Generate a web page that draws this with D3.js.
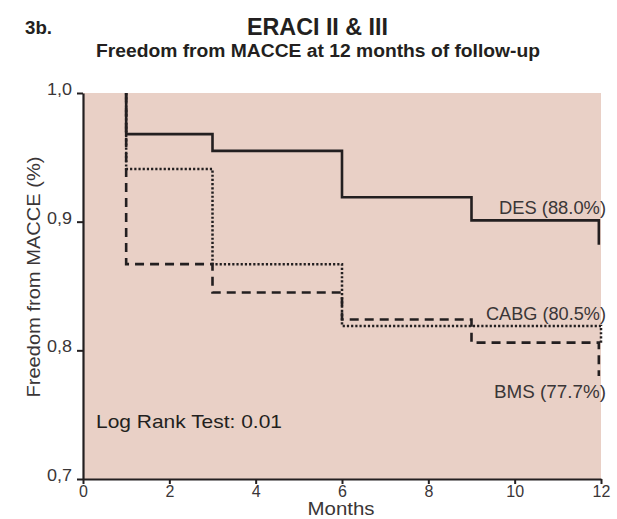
<!DOCTYPE html>
<html>
<head>
<meta charset="utf-8">
<script src="https://cdn.jsdelivr.net/npm/d3@7"></script>
<style>
  body { margin: 0; background: #fff; }
  svg { display: block; }
  .axis path, .axis line { stroke: #231f20; }
  .axis text { fill: #3a3637; font-family: "Liberation Sans", Arial, sans-serif; }
</style>
</head>
<body>
<div id="graphWrapper"></div>
<script>
// month at each step, survival value at each step
var desMonths  = [1, 1, 3, 6, 9, 11.95];
var desValues  = [1.0, 0.968, 0.955, 0.919, 0.901, 0.882];
var cabgMonths = [1, 1, 3, 6, 12];
var cabgValues = [1.0, 0.941, 0.867, 0.819, 0.805];
var bmsMonths  = [1, 1, 3, 6, 9, 11.95];
var bmsValues  = [1.0, 0.867, 0.845, 0.824, 0.806, 0.780];

var seriesNames  = ["DES (88.0%)", "CABG (80.5%)", "BMS (77.7%)"];
var xTicks = [0, 2, 4, 6, 8, 10, 12];
var yTicks = [0.7, 0.8, 0.9, 1.0];

var w = 617, h = 519;
var margin = { top: 93, bottom: 40, left: 83, right: 16 };
var width = w - margin.left - margin.right;
var height = h - margin.top - margin.bottom;
var ink = "#231f20";
var bodyFont = "'Liberation Sans', Arial, sans-serif";

var svg = d3.select("#graphWrapper").append("svg")
    .attr("width", w)
    .attr("height", h);

var chart = svg.append("g")
    .attr("transform", "translate(" + margin.left + "," + margin.top + ")");

var x = d3.scaleLinear().domain([0, 12]).range([0, width]);
var y = d3.scaleLinear().domain([0.7, 1.0]).range([height, 0]);

// background panel
chart.append("rect")
    .attr("x", 0).attr("y", 0)
    .attr("width", width).attr("height", height)
    .attr("fill", "#e9d0c6");

var line = d3.line()
    .x(function(d){ return x(d[0]); })
    .y(function(d){ return y(d[1]); })
    .curve(d3.curveStepAfter);

function pairs(months, values){
    return months.map(function(m, i){ return [m, values[i]]; });
}

var curves = [
    { data: pairs(bmsMonths, bmsValues), dash: "9,6", width: 2.6 },
    { data: pairs(cabgMonths, cabgValues), dash: "2.2,2", width: 2.5 },
    { data: pairs(desMonths, desValues), dash: null, width: 2.6 }
];

chart.selectAll(".km")
    .data(curves)
    .enter()
    .append("path")
    .classed("km", true)
    .attr("d", function(d){ return line(d.data); })
    .attr("fill", "none")
    .attr("stroke", ink)
    .attr("stroke-width", function(d){ return d.width; })
    .attr("stroke-dasharray", function(d){ return d.dash; });

// axes
var yAxis = d3.axisLeft(y)
    .tickValues(yTicks)
    .tickSize(6)
    .tickSizeOuter(0)
    .tickFormat(function(d){ return d3.format(".1f")(d).replace(".", ","); });
var xAxis = d3.axisBottom(x)
    .tickValues(xTicks)
    .tickSize(5)
    .tickSizeOuter(0)
    .tickFormat(d3.format("d"));

var gy = chart.append("g").classed("y axis", true).call(yAxis);
gy.select(".domain").attr("stroke-width", 2.2);
gy.selectAll(".tick line").attr("stroke-width", 2);
gy.selectAll(".tick text")
    .style("font-size", "16px")
    .attr("x", -11)
    .attr("dy", "0.1em")
    .attr("textLength", 25)
    .attr("lengthAdjust", "spacingAndGlyphs");

var gx = chart.append("g").classed("x axis", true)
    .attr("transform", "translate(0," + height + ")")
    .call(xAxis);
gx.select(".domain").attr("stroke-width", 2.2);
gx.selectAll(".tick line").attr("stroke-width", 2);
gx.selectAll(".tick text").style("font-size", "16px").attr("y", 4).attr("dy", "0.85em");

// axis labels
svg.append("text")
    .attr("transform", "translate(40," + 277 + ") rotate(-90)")
    .attr("text-anchor", "middle")
    .attr("textLength", 241)
    .attr("lengthAdjust", "spacingAndGlyphs")
    .style("font-family", bodyFont)
    .style("font-size", "19px")
    .style("fill", "#3a3637")
    .text("Freedom from MACCE (%)");

svg.append("text")
    .attr("x", margin.left + x(6) - 1)
    .attr("y", 515)
    .attr("text-anchor", "middle")
    .attr("textLength", 67)
    .attr("lengthAdjust", "spacingAndGlyphs")
    .style("font-family", bodyFont)
    .style("font-size", "18px")
    .style("fill", "#3a3637")
    .text("Months");

// curve labels
var labelY = [desValues[4], cabgValues[3], bmsValues[5]];
var labelOffset = [-6, -6, 22];
var labelLen = [107, 120, 112];
chart.selectAll(".lbl")
    .data(seriesNames)
    .enter()
    .append("text")
    .classed("lbl", true)
    .attr("x", width + 5)
    .attr("y", function(d, i){ return y(labelY[i]) + labelOffset[i]; })
    .attr("text-anchor", "end")
    .attr("textLength", function(d, i){ return labelLen[i]; })
    .attr("lengthAdjust", "spacingAndGlyphs")
    .style("font-family", bodyFont)
    .style("font-size", "18px")
    .style("fill", "#3a3637")
    .text(function(d){ return d; });

chart.append("text")
    .attr("x", 13)
    .attr("y", 335)
    .attr("textLength", 186)
    .attr("lengthAdjust", "spacingAndGlyphs")
    .style("font-family", bodyFont)
    .style("font-size", "19px")
    .style("fill", ink)
    .text("Log Rank Test: 0.01");

// titles
var titleFont = "'Liberation Sans', Arial, sans-serif";
svg.append("text")
    .attr("x", 25).attr("y", 34)
    .attr("textLength", 27)
    .attr("lengthAdjust", "spacingAndGlyphs")
    .style("font-family", titleFont)
    .style("font-weight", "bold")
    .style("font-size", "18px")
    .style("fill", ink)
    .text("3b.");

svg.append("text")
    .attr("x", 247).attr("y", 35)
    .attr("textLength", 141)
    .attr("lengthAdjust", "spacingAndGlyphs")
    .style("font-family", titleFont)
    .style("font-weight", "bold")
    .style("font-size", "23px")
    .style("fill", ink)
    .text("ERACI II & III");

svg.append("text")
    .attr("x", 96).attr("y", 57)
    .attr("textLength", 444)
    .attr("lengthAdjust", "spacingAndGlyphs")
    .style("font-family", titleFont)
    .style("font-weight", "bold")
    .style("font-size", "18px")
    .style("fill", ink)
    .text("Freedom from MACCE at 12 months of follow-up");
</script>
</body>
</html>
